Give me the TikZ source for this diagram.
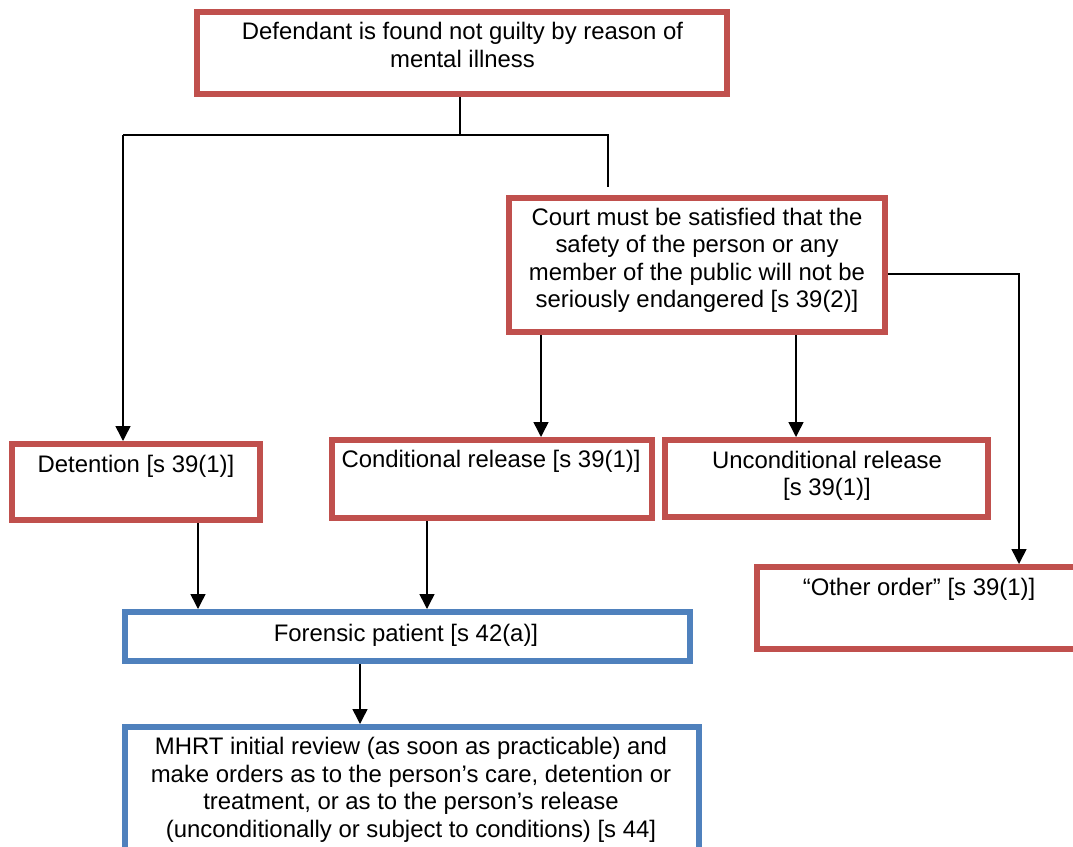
\documentclass[tikz,border=0pt]{standalone}
\usepackage{fontspec}
\setmainfont{Liberation Sans}
\usetikzlibrary{arrows.meta,calc}
\definecolor{boxred}{HTML}{C0504D}
\definecolor{boxblue}{HTML}{4F81BD}
\begin{document}
\begin{tikzpicture}[x=1pt,y=-1pt,
  redbox/.style={draw=boxred,line width=6pt,fill=white,inner sep=0pt},
  bluebox/.style={draw=boxblue,line width=6pt,fill=white,inner sep=0pt},
  txt/.style={align=center,inner sep=0pt,anchor=base,font=\fontsize{23.9}{27.4}\selectfont},
  conn/.style={draw=black,line width=1.5pt},
  arr/.style={conn,-{Triangle[width=15pt,length=15pt]}}]
\useasboundingbox (0,0) rectangle (1073,846);
\clip (0,0) rectangle (1073,846);
% boxes
\node[redbox,minimum width=530,minimum height=82] (top) at (462,53) {};
\node[redbox,minimum width=376,minimum height=134] (court) at (697,265) {};
\node[redbox,minimum width=248,minimum height=76] (det) at (136,482) {};
\node[redbox,minimum width=320,minimum height=78] (cond) at (492,479) {};
\node[redbox,minimum width=323,minimum height=77] (uncond) at (826.5,478.5) {};
\node[redbox,minimum width=324,minimum height=82] (other) at (919,608) {};
\node[bluebox,minimum width=565,minimum height=49] (foren) at (407.5,636.5) {};
\node[bluebox,minimum width=574,minimum height=133] (mhrt) at (412,793.5) {};
% texts (anchor base = baseline of the last line)
\node[txt] (toptxt) at (462.5,67) {Defendant is found not guilty by reason of\\mental illness};
\node[txt] (courttxt) at (697,307.5) {Court must be satisfied that the\\safety of the person or any\\member of the public will not be\\seriously endangered [s 39(2)]};
\node[txt] (dettxt) at (136,472) {Detention [s 39(1)]};
\node[txt] (condtxt) at (491,467) {Conditional release [s 39(1)]};
\node[txt] (uncondtxt) at (827,495.5) {Unconditional release\\{}[s 39(1)]};
\node[txt] (othertxt) at (919,595) {“Other order” [s 39(1)]};
\node[txt] (forentxt) at (406,641) {Forensic patient [s 42(a)]};
\node[txt] (mhrttxt) at (411,837) {MHRT initial review (as soon as practicable) and\\make orders as to the person’s care, detention or\\treatment, or as to the person’s release\\(unconditionally or subject to conditions) [s 44]};
% connector points
\coordinate (j) at (460,135);
\coordinate (jl) at (123,135);
\coordinate (jr) at (608,135);
\coordinate (jrend) at (608,187);
\coordinate (ce) at (1019,274);
\coordinate (xa) at (541,0);
\coordinate (xb) at (796,0);
\coordinate (xc) at (198,0);
\coordinate (xd) at (427,0);
\coordinate (xe) at (360,0);
% connectors
\draw[conn] (j |- top.south) -- (j);
\draw[conn] (jl) -- (jr) -- (jrend);
\draw[arr] (jl) -- (jl |- det.north);
\draw[arr] (ce -| court.east) -- (ce) -- (ce |- other.north);
\draw[arr] (xa |- court.south) -- (xa |- cond.north);
\draw[arr] (xb |- court.south) -- (xb |- uncond.north);
\draw[arr] (xc |- det.south) -- (xc |- foren.north);
\draw[arr] (xd |- cond.south) -- (xd |- foren.north);
\draw[arr] (xe |- foren.south) -- (xe |- mhrt.north);
\end{tikzpicture}
\end{document}
